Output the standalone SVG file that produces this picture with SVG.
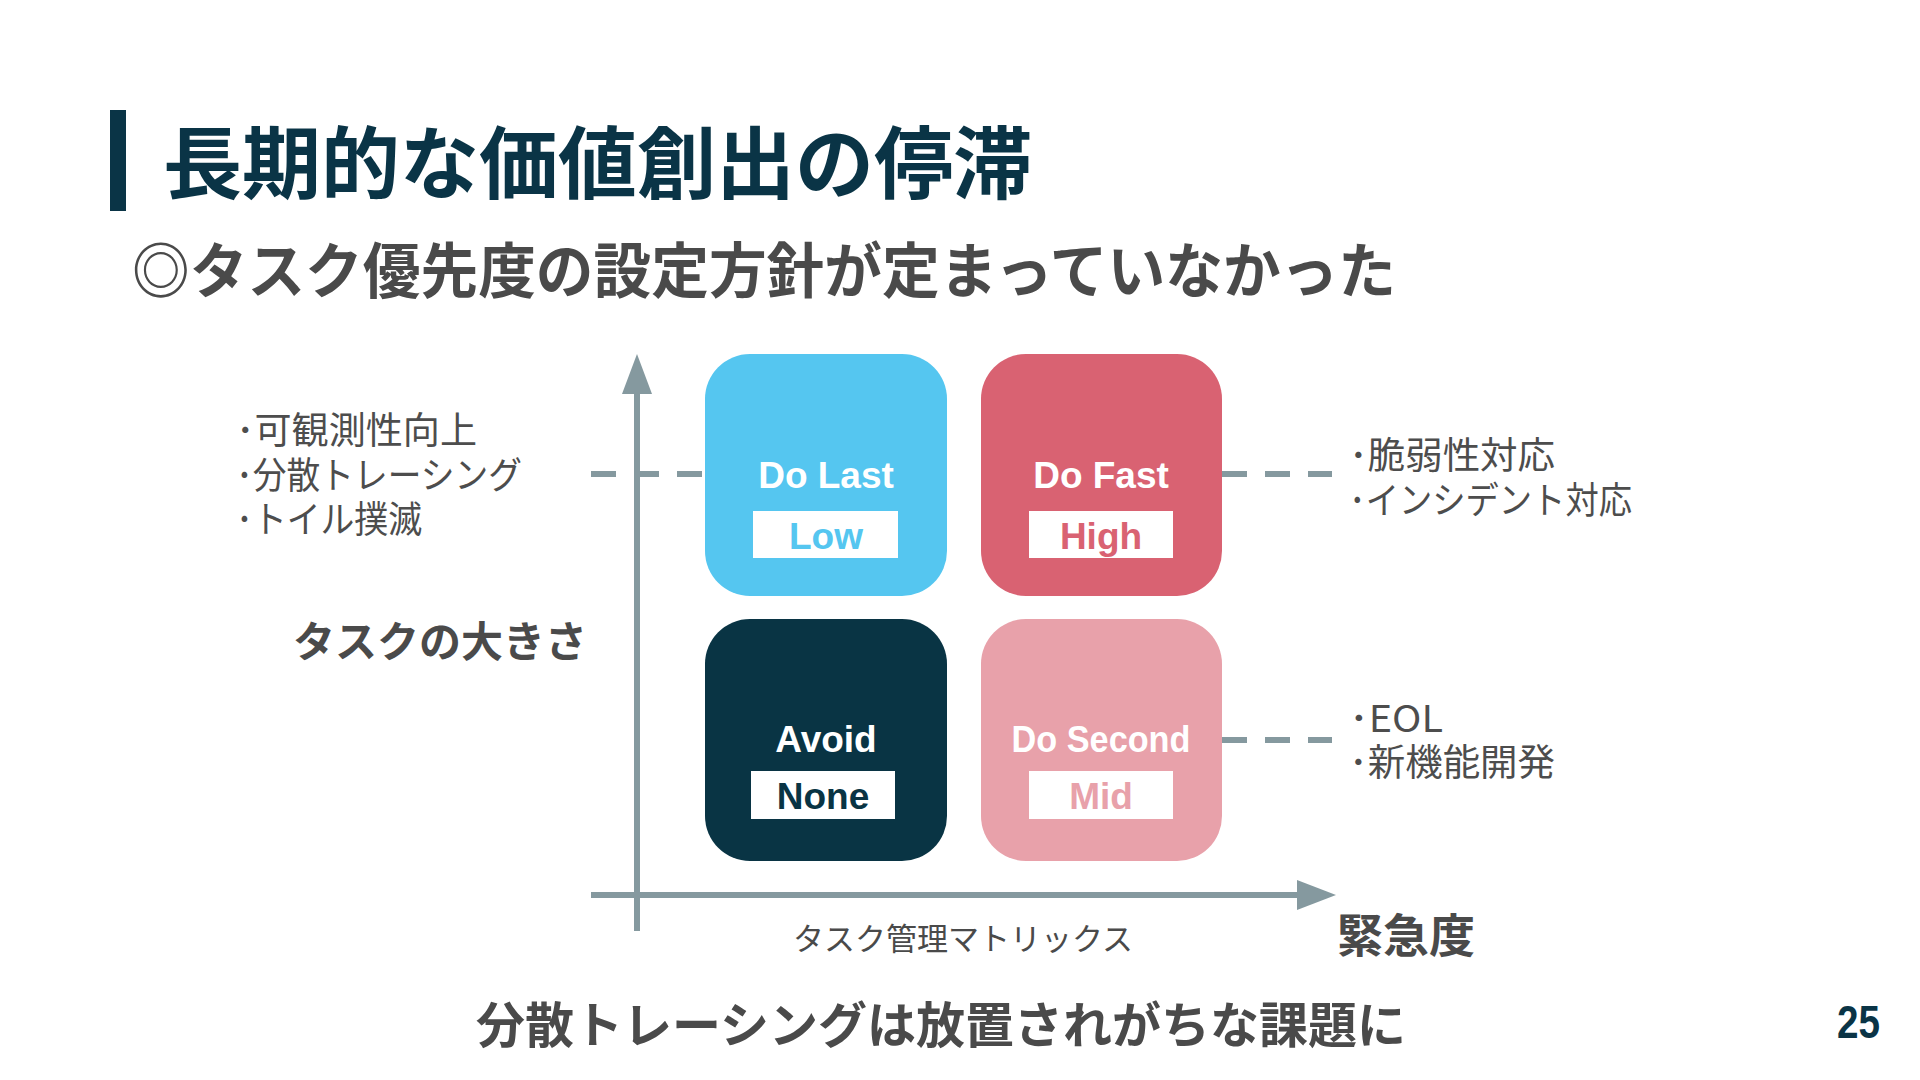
<svg xmlns="http://www.w3.org/2000/svg" width="1920" height="1080" viewBox="0 0 1920 1080">
<defs>
<style>
.jp{font-family:"Noto Sans CJK JP","Noto Sans",sans-serif}
.b{font-weight:700}
.gray{fill:#4a4a4a}
.side{font-size:37px;fill:#4d4d4d;font-weight:400}
.lbl{font-family:"Liberation Sans",Arial,sans-serif;font-weight:700;font-size:37px;text-anchor:middle}
.axis{stroke:#85999f;stroke-width:6;fill:none}
.dash{stroke:#85999f;stroke-width:6;fill:none;stroke-dasharray:25 18}
</style>
</defs>
<rect width="1920" height="1080" fill="#ffffff"/>
<g id="title">
<rect x="110" y="110" width="16" height="101" fill="#0a3446"/>
<text x="163" y="193" class="jp b" font-size="79" fill="#0a3446">長期的な価値創出の停滞</text>
</g>
<g id="subtitle">
<text x="132" y="293" class="jp b gray" font-size="60" textLength="1264" lengthAdjust="spacingAndGlyphs">◎タスク優先度の設定方針が定まっていなかった</text>
</g>
<g id="connectors">
<line class="axis" x1="637" y1="390" x2="637" y2="931"/>
<polygon points="637,354 622,394 652,394" fill="#85999f"/>
<line class="axis" x1="591" y1="895" x2="1300" y2="895"/>
<polygon points="1336,895 1297,880 1297,910" fill="#85999f"/>
<line class="dash" x1="591" y1="474" x2="705" y2="474"/>
<line class="dash" x1="1222" y1="474" x2="1332" y2="474"/>
<line class="dash" x1="1222" y1="740" x2="1332" y2="740"/>
</g>
<g id="do-last">
<rect x="705" y="354" width="242" height="242" rx="45" fill="#55c6f0"/>
<text x="826" y="488" class="lbl" fill="#ffffff">Do Last</text>
<rect x="753" y="511" width="145" height="47" fill="#ffffff"/>
<text x="826" y="549" class="lbl" fill="#55c6f0">Low</text>
</g>
<g id="do-fast">
<rect x="981" y="354" width="241" height="242" rx="45" fill="#d96272"/>
<text x="1101" y="488" class="lbl" fill="#ffffff">Do Fast</text>
<rect x="1029" y="511" width="144" height="47" fill="#ffffff"/>
<text x="1101" y="549" class="lbl" fill="#d96272">High</text>
</g>
<g id="avoid">
<rect x="705" y="619" width="242" height="242" rx="45" fill="#093444"/>
<text x="826" y="752" class="lbl" fill="#ffffff">Avoid</text>
<rect x="751" y="771" width="144" height="48" fill="#ffffff"/>
<text x="823" y="809" class="lbl" fill="#093444">None</text>
</g>
<g id="do-second">
<rect x="981" y="619" width="241" height="242" rx="45" fill="#e8a1aa"/>
<text x="1101" y="752" class="lbl" fill="#ffffff" textLength="179" lengthAdjust="spacingAndGlyphs">Do Second</text>
<rect x="1029" y="771" width="144" height="48" fill="#ffffff"/>
<text x="1101" y="809" class="lbl" fill="#e8a1aa">Mid</text>
</g>
<g id="left-notes" class="jp side">
<text x="236" y="444" textLength="241" lengthAdjust="spacingAndGlyphs">･可観測性向上</text>
<text x="236" y="489" textLength="286" lengthAdjust="spacingAndGlyphs">･分散トレーシング</text>
<text x="236" y="533" textLength="186" lengthAdjust="spacingAndGlyphs">･トイル撲滅</text>
</g>
<g id="right-notes-top" class="jp side">
<text x="1349" y="469" textLength="206" lengthAdjust="spacingAndGlyphs">･脆弱性対応</text>
<text x="1349" y="514" textLength="283" lengthAdjust="spacingAndGlyphs">･インシデント対応</text>
</g>
<g id="right-notes-bottom" class="jp side">
<text x="1349" y="732" textLength="94" lengthAdjust="spacingAndGlyphs">･EOL</text>
<text x="1349" y="776" textLength="206" lengthAdjust="spacingAndGlyphs">･新機能開発</text>
</g>
<g id="y-label">
<text x="293" y="657" class="jp b gray" font-size="42">タスクの大きさ</text>
</g>
<g id="x-caption">
<text x="963" y="950" class="jp gray" font-size="31" text-anchor="middle">タスク管理マトリックス</text>
</g>
<g id="x-label">
<text x="1337" y="952" class="jp b gray" font-size="46">緊急度</text>
</g>
<g id="conclusion">
<text x="476" y="1043" class="jp b gray" font-size="49">分散トレーシングは放置されがちな課題に</text>
</g>
<g id="page-number">
<text x="1837" y="1038" font-family="Liberation Sans, Arial, sans-serif" font-weight="700" font-size="46" fill="#0a3446" textLength="43" lengthAdjust="spacingAndGlyphs">25</text>
</g>
</svg>
